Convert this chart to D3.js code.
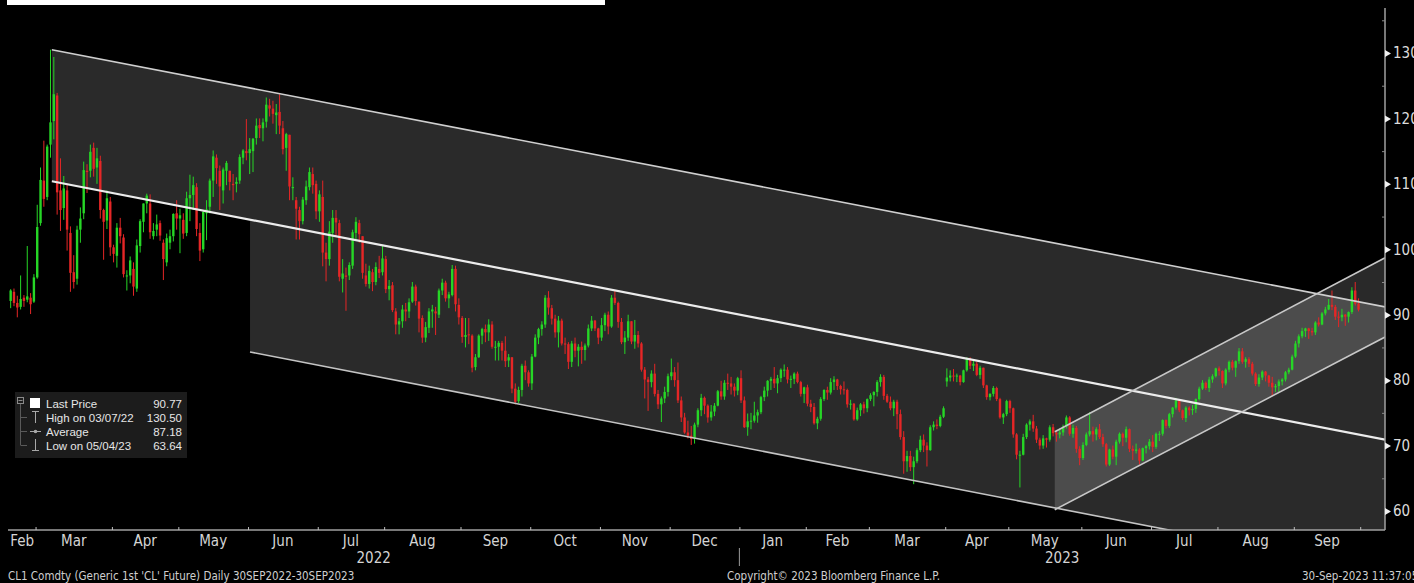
<!DOCTYPE html>
<html>
<head>
<meta charset="utf-8">
<script src="https://cdn.jsdelivr.net/npm/d3@7"></script>
<style>
html, body { margin: 0; padding: 0; background: #000; overflow: hidden; }
svg { display: block; }
</style>
</head>
<body>
<div id="chart"></div>
<script>
// daily candles, [open, high, low, close], one array per month
const feb22 = [[92.1,93.9,91.0,93.7],[93.5,94.0,91.3,91.8],[91.8,92.9,89.6,91.1],[91.2,96.0,90.8,92.4],[92.6,93.0,91.2,92.1],[92.3,100.5,91.9,92.8],[92.6,93.3,90.1,91.6],[92.0,96.2,91.8,95.7]];
const mar22 = [[95.7,106.8,95.5,103.4],[104.0,112.5,103.6,110.6],[110.5,116.6,106.5,107.7],[108.0,116.0,107.5,115.7],[116.0,130.5,114.0,119.4],[119.6,129.4,116.8,123.7],[123.5,123.9,105.3,108.7],[109.0,113.9,102.8,106.0],[106.3,111.2,104.5,109.3],[109.0,110.0,99.8,103.0],[102.5,103.5,93.5,96.4],[96.5,99.1,94.0,95.0],[95.5,103.6,94.6,103.0],[103.0,106.4,101.0,104.7],[105.5,113.4,104.6,112.1],[112.0,113.0,108.6,111.8],[112.0,116.0,111.0,114.9],[115.5,116.3,111.1,112.3],[112.5,115.5,110.0,113.9],[113.5,114.3,104.7,106.0],[106.0,106.2,98.4,104.2],[104.4,109.0,103.1,107.8],[107.3,108.0,99.0,100.3]];
const apr22 = [[100.3,100.7,98.0,99.3],[99.0,104.0,97.2,103.3],[103.3,104.8,100.9,102.0],[101.8,102.3,95.7,96.2],[96.0,96.8,93.7,96.0],[96.0,98.9,94.8,98.3],[97.0,98.0,92.9,94.3],[94.0,101.5,93.5,100.6],[100.5,104.6,99.5,104.3],[104.2,107.0,102.6,107.0],[107.0,108.5,105.5,108.2],[107.0,108.4,101.6,102.6],[102.0,104.0,101.5,102.8],[103.0,105.3,102.0,103.8],[104.0,104.4,101.3,102.1],[101.0,101.5,95.3,98.5],[98.0,102.4,97.4,101.7],[101.0,103.0,100.0,102.0],[102.0,105.5,101.2,105.4],[105.5,107.5,103.0,104.7]];
const may22 = [[104.7,106.2,99.4,105.2],[104.5,105.5,101.6,102.4],[102.5,108.8,102.0,107.8],[107.8,111.4,104.3,108.3],[108.3,111.1,106.0,109.8],[109.5,110.1,102.0,103.1],[102.5,104.0,98.2,99.8],[100.0,106.0,99.5,105.7],[105.5,107.5,101.4,106.1],[106.5,110.8,105.5,110.5],[110.5,115.1,108.0,114.2],[114.0,114.5,110.0,112.4],[112.0,112.8,106.0,109.6],[109.0,112.5,107.0,112.2],[112.0,113.5,109.8,113.2],[112.0,112.0,109.0,110.3],[110.0,111.5,107.5,109.8],[110.0,111.0,108.7,110.3],[110.5,114.5,110.0,114.1],[114.0,115.3,113.0,115.1],[115.0,119.9,113.6,114.7]];
const jun22 = [[114.7,117.0,111.5,115.3],[115.0,117.0,111.8,116.9],[117.0,120.0,116.0,118.9],[119.0,120.0,117.0,118.5],[118.5,120.0,116.5,119.4],[119.5,123.2,118.6,122.1],[122.0,123.0,120.3,121.5],[121.5,122.7,119.2,120.7],[120.5,122.2,117.6,120.9],[121.0,123.7,117.6,118.9],[118.5,119.6,114.5,115.3],[115.5,117.8,112.0,117.6],[117.5,117.5,107.5,109.6],[109.5,111.0,107.5,109.5],[107.5,108.0,101.5,106.2],[106.0,106.5,101.5,104.3],[104.3,108.0,103.8,107.6],[107.5,110.5,106.8,109.6],[109.5,112.5,109.0,111.8],[111.5,112.5,108.5,109.8],[110.0,110.5,104.6,105.8]];
const jul22 = [[105.8,109.0,104.2,108.4],[108.0,110.5,97.4,99.5],[99.5,101.0,95.1,98.5],[98.5,104.3,97.5,102.7],[102.5,106.0,101.0,104.8],[104.8,106.0,102.0,104.1],[104.0,104.5,95.1,95.8],[95.5,98.5,93.4,96.3],[96.0,97.2,90.6,95.8],[96.0,98.0,95.3,97.6],[97.5,103.0,97.0,102.6],[102.5,104.9,101.5,104.2],[104.0,104.5,101.0,102.3],[102.0,102.0,95.5,96.4],[96.0,97.8,94.3,94.7],[94.7,97.5,94.0,96.7],[96.5,97.0,93.6,95.0],[95.0,98.0,94.5,97.3],[97.0,99.0,95.6,96.4],[96.5,100.5,96.0,98.6]];
const aug22 = [[98.5,99.0,93.3,93.9],[93.9,95.3,92.2,94.4],[94.5,95.0,90.4,90.7],[90.5,91.0,87.0,88.5],[88.5,89.5,87.0,89.0],[89.0,91.5,88.0,90.8],[90.8,91.8,89.0,90.5],[90.5,92.5,89.5,91.9],[92.0,95.0,91.8,94.3],[94.3,94.6,91.4,92.1],[92.0,92.0,87.3,89.4],[89.5,89.9,85.7,86.5],[86.5,88.9,85.8,88.1],[88.0,91.0,87.2,90.5],[90.5,91.5,88.0,90.8],[90.5,91.2,86.9,90.2],[90.0,94.0,89.5,93.7],[93.7,95.5,93.0,94.9],[94.9,95.2,92.0,92.5],[92.5,93.5,91.0,93.1],[93.0,97.6,92.8,97.0],[97.0,97.5,90.5,91.6],[91.5,92.5,88.5,89.6]];
const sep22 = [[89.5,89.8,85.7,86.6],[86.6,89.5,85.0,86.9],[87.0,89.5,85.5,86.9],[86.8,87.0,81.2,81.9],[82.0,84.0,81.5,83.5],[83.5,87.0,83.4,86.8],[86.8,88.0,85.5,87.8],[87.8,88.5,85.8,87.3],[87.3,89.3,86.0,88.5],[88.5,89.0,84.8,85.1],[85.1,86.0,83.0,85.1],[85.1,86.0,83.0,85.7],[85.7,86.0,83.0,84.5],[84.5,86.7,82.0,82.9],[83.0,84.0,82.0,83.5],[83.5,83.5,78.0,78.7],[78.7,79.5,76.3,76.7],[76.8,79.0,76.5,78.5],[78.5,82.5,77.5,82.2],[82.2,83.0,80.0,81.2],[81.2,81.5,79.0,79.5]];
const oct22 = [[79.5,84.0,78.5,83.6],[83.6,87.0,83.5,86.5],[86.5,88.0,85.5,87.8],[87.8,89.0,86.8,88.5],[88.5,93.0,88.0,92.6],[92.6,93.6,90.0,91.1],[91.0,91.5,88.5,89.4],[89.4,90.0,86.5,87.3],[87.3,89.8,85.0,89.1],[89.1,89.4,85.3,85.6],[85.6,86.5,84.0,85.5],[85.5,85.8,81.7,82.8],[82.8,86.0,82.0,85.6],[85.6,86.5,83.5,84.5],[84.5,85.5,82.1,85.1],[85.1,85.9,82.5,84.6],[84.6,85.6,83.0,85.3],[85.3,88.5,85.0,87.9],[87.9,89.8,87.5,89.1],[89.1,89.2,87.5,87.9],[87.9,88.0,85.5,86.5]];
const nov22 = [[86.5,89.5,86.0,88.4],[88.4,90.3,87.5,90.0],[90.0,90.5,87.0,88.2],[88.2,93.0,88.0,92.6],[92.6,93.7,91.5,91.8],[91.8,92.0,88.0,88.9],[88.9,89.5,85.5,85.8],[85.8,87.5,84.0,86.5],[86.5,90.0,86.0,89.0],[89.0,89.0,85.5,85.9],[85.9,89.2,84.8,86.9],[86.9,87.5,85.0,85.6],[85.6,85.8,81.3,81.6],[81.6,82.0,77.2,80.1],[80.1,80.5,75.3,79.7],[79.7,81.5,78.9,81.0],[81.0,82.5,77.5,77.9],[77.9,78.5,75.6,76.3],[76.3,77.5,73.6,77.2],[77.2,79.0,76.5,78.2],[78.2,81.0,77.5,80.6]];
const dec22 = [[80.6,83.3,80.0,81.2],[81.2,82.0,79.0,80.0],[80.0,82.7,76.5,76.9],[76.9,77.5,73.6,74.3],[74.3,75.0,71.8,72.0],[72.0,73.8,71.1,71.5],[71.5,73.0,70.1,71.0],[71.0,73.5,70.3,73.2],[73.2,75.7,72.8,75.4],[75.4,77.9,74.5,77.3],[77.3,77.5,74.8,76.1],[76.1,76.3,73.5,74.3],[74.3,76.2,73.8,75.2],[75.2,76.5,74.5,76.1],[76.1,78.5,76.0,78.3],[78.3,79.9,77.0,77.5],[77.5,80.0,77.0,79.6],[79.6,81.0,78.5,79.5],[79.5,80.5,77.8,79.0],[79.0,79.5,77.5,78.4],[78.4,80.5,77.7,80.3]];
const jan23 = [[80.3,81.5,76.5,76.9],[76.9,77.5,72.7,72.8],[72.8,74.9,71.5,73.7],[73.7,75.0,72.5,73.8],[73.8,76.7,73.5,74.6],[74.6,75.5,73.5,75.1],[75.1,77.6,74.8,77.4],[77.4,79.0,76.8,78.4],[78.4,80.0,77.5,79.9],[79.9,80.5,78.5,80.2],[80.2,82.0,78.8,79.5],[79.5,80.8,78.0,80.3],[80.3,81.8,79.7,81.6],[81.6,82.4,80.5,81.6],[81.6,82.0,79.5,80.1],[80.1,80.7,78.8,80.2],[80.2,81.2,79.4,81.0],[81.0,81.3,79.5,79.7],[79.7,79.9,77.5,77.9],[77.9,79.0,76.5,78.9]];
const feb23 = [[78.9,79.3,76.0,76.4],[76.4,77.0,75.1,75.9],[75.9,76.5,73.2,73.4],[73.4,74.4,72.5,74.1],[74.1,77.4,73.8,77.1],[77.1,78.6,76.8,78.5],[78.5,79.0,77.0,78.1],[78.1,80.3,77.8,79.7],[79.7,80.6,78.5,80.1],[80.1,80.2,78.5,79.1],[79.1,79.3,77.8,78.6],[78.6,79.8,77.8,78.5],[78.5,78.7,75.8,76.3],[76.3,77.0,75.5,76.4],[76.4,76.5,73.8,74.0],[74.0,75.8,73.8,75.4],[75.4,76.5,74.5,76.3],[76.3,76.7,74.9,75.7],[75.7,77.2,75.1,77.1]];
const mar23 = [[77.1,78.0,76.8,77.7],[77.7,78.3,76.0,78.2],[78.2,80.0,77.5,79.7],[79.7,80.9,79.0,80.5],[80.5,80.8,77.0,77.6],[77.6,77.9,76.5,76.7],[76.7,77.5,75.4,75.7],[75.7,77.0,74.5,76.7],[76.7,77.0,72.5,74.8],[74.8,75.5,70.9,71.3],[71.3,72.2,65.7,67.6],[67.6,69.2,66.0,68.4],[68.4,69.2,66.1,66.7],[66.7,68.3,64.1,67.6],[67.6,69.6,67.3,69.3],[69.3,71.5,69.0,70.9],[70.9,71.7,69.0,70.0],[70.0,70.5,66.8,69.3],[69.3,73.1,69.2,72.8],[72.8,73.7,72.3,73.2],[73.2,74.0,72.5,73.0],[73.0,74.7,72.8,74.4],[74.4,76.0,74.2,75.7]];
const apr23 = [[79.8,81.8,79.0,80.4],[80.4,81.5,79.8,80.7],[80.7,81.7,79.8,80.6],[80.6,81.0,79.7,80.7],[80.7,80.8,79.2,79.7],[79.7,81.6,79.6,81.5],[81.5,83.5,81.3,83.3],[83.3,83.5,81.7,82.2],[82.2,83.0,81.4,82.5],[82.5,82.8,80.6,80.8],[80.8,82.2,80.2,81.9],[81.9,81.9,78.8,79.2],[79.2,79.3,77.0,77.4],[77.4,78.0,76.9,77.9],[77.9,79.1,77.5,78.8],[78.8,79.0,76.8,77.1],[77.1,77.3,74.1,74.3],[74.3,75.0,73.3,74.8],[74.8,77.0,74.5,76.8]];
const may23 = [[76.8,77.0,75.0,75.7],[75.7,75.8,71.2,71.7],[71.7,71.9,67.9,68.6],[68.6,69.2,63.6,68.6],[68.6,71.8,68.5,71.3],[71.3,73.4,71.0,73.2],[73.2,74.0,72.3,73.7],[73.7,74.7,72.1,72.6],[72.6,73.0,70.4,70.9],[70.9,71.2,69.4,70.0],[70.0,71.6,69.5,71.1],[71.1,71.2,69.7,70.9],[70.9,73.1,70.6,72.8],[72.8,73.3,71.4,71.9],[71.9,72.4,70.6,71.7],[71.7,72.6,71.1,72.0],[72.0,73.2,71.5,72.9],[72.9,74.6,72.6,74.3],[74.3,74.5,71.5,71.8],[71.8,73.2,71.2,72.7],[72.7,73.0,68.9,69.5],[69.5,69.9,67.0,68.1]];
const jun23 = [[68.1,70.5,67.8,70.1],[70.1,72.0,69.9,71.7],[71.7,75.1,71.4,72.2],[72.2,72.9,70.6,71.7],[71.7,72.8,70.8,72.5],[72.5,73.3,71.0,71.3],[71.3,71.8,69.8,70.2],[70.2,70.4,66.8,67.1],[67.1,69.5,66.9,69.4],[69.4,70.0,67.9,68.3],[68.3,70.9,67.0,70.6],[70.6,72.0,70.3,71.8],[71.8,72.0,69.9,71.2],[71.2,72.9,70.5,72.5],[72.5,72.6,69.0,69.5],[69.5,70.0,67.8,69.2],[69.2,70.3,68.8,69.4],[69.4,69.6,67.1,67.7],[67.7,69.7,67.6,69.6],[69.6,70.1,68.8,69.9],[69.9,71.0,69.4,70.6]];
const jul23 = [[70.6,71.6,69.0,69.8],[69.8,72.0,69.5,71.8],[71.8,72.2,70.7,71.8],[71.8,74.0,71.5,73.9],[73.9,74.0,72.6,73.0],[73.0,75.0,72.7,74.8],[74.8,75.9,74.3,75.8],[75.8,77.3,75.5,76.9],[76.9,77.0,75.1,75.4],[75.4,75.5,73.9,74.2],[74.2,76.0,73.6,75.8],[75.8,76.0,74.6,75.4],[75.4,76.2,74.7,75.6],[75.6,77.2,75.0,77.1],[77.1,79.0,76.9,78.7],[78.7,80.0,78.5,79.6],[79.6,79.8,78.5,78.8],[78.8,80.5,78.2,80.1],[80.1,80.9,79.6,80.6],[80.6,81.9,80.4,81.8]];
const aug23 = [[81.8,82.1,80.7,81.4],[81.4,81.5,78.8,79.5],[79.5,81.8,79.2,81.6],[81.6,83.0,81.2,82.8],[82.8,83.1,81.5,81.9],[81.9,83.0,80.5,82.9],[82.9,84.9,82.5,84.4],[84.4,84.9,82.5,82.8],[82.8,83.5,81.9,83.2],[83.2,83.5,82.0,82.5],[82.5,82.8,80.7,81.0],[81.0,81.2,79.1,79.4],[79.4,80.9,79.0,80.4],[80.4,81.5,80.0,81.3],[81.3,81.4,79.8,80.7],[80.7,80.8,79.0,79.6],[79.6,80.5,77.6,78.9],[78.9,79.4,78.2,79.1],[79.1,80.1,78.1,79.8],[79.8,80.3,79.2,80.1],[80.1,81.4,79.8,81.2],[81.2,81.9,80.9,81.6],[81.6,83.9,81.5,83.6]];
const sep23 = [[83.6,86.0,83.4,85.6],[85.6,87.0,85.0,86.7],[86.7,88.0,86.4,87.5],[87.5,88.0,86.6,87.9],[87.9,88.0,86.3,87.5],[87.5,88.0,86.8,87.3],[87.3,89.0,86.9,88.8],[88.8,89.6,88.2,88.5],[88.5,90.4,88.4,90.2],[90.2,91.2,89.9,90.8],[90.8,92.4,90.7,91.5],[91.5,93.7,90.7,91.2],[91.2,91.5,89.2,89.7],[89.7,90.5,88.1,89.6],[89.6,90.9,89.0,90.0],[90.0,90.1,88.3,89.7],[89.7,90.5,88.8,90.4],[90.4,94.2,90.1,93.7],[93.7,95.0,91.4,91.7],[91.7,92.5,90.5,90.77]];

const monthBars = [feb22, mar22, apr22, may22, jun22, jul22, aug22, sep22, oct22, nov22, dec22,
                   jan23, feb23, mar23, apr23, may23, jun23, jul23, aug23, sep23];
const monthNames = ["Feb","Mar","Apr","May","Jun","Jul","Aug","Sep","Oct","Nov","Dec",
                    "Jan","Feb","Mar","Apr","May","Jun","Jul","Aug","Sep"];
const monthYears = [2022,2022,2022,2022,2022,2022,2022,2022,2022,2022,2022,
                    2023,2023,2023,2023,2023,2023,2023,2023,2023];

const yTicks = [60, 70, 80, 90, 100, 110, 120, 130];
const yMinorTicks = [65, 75, 85, 95, 105, 115, 125, 135];

const legendLabels = ["Last Price", "High on 03/07/22", "Average", "Low on 05/04/23"];
const legendValues = ["90.77", "130.50", "87.18", "63.64"];

// drawn trend channels, [bar index, price] at both ends
const topLine = [[12.9, 130.5], [414.5, 91.2]];
const midLine = [[12.9, 110.4], [414.5, 70.9]];
const lowLine = [[72.6, 84.3], [414.5, 50.7]];
const riseLow = [[315, 60.2], [414.5, 86.6]];
const riseHigh = [[315, 72.1], [414.5, 98.7]];

const footLeft = "CL1 Comdty (Generic 1st 'CL' Future)  Daily 30SEP2022-30SEP2023";
const footMid = "Copyright\u00A9 2023 Bloomberg Finance L.P.";
const footRight = "30-Sep-2023 11:37:05";

// ---------------------------------------------------------------
const W = 1414, H = 583;
const plot = {left: 8, right: 1385, top: 8, bottom: 530};
const axisFont = "'DejaVu Sans Condensed','Liberation Sans Narrow','DejaVu Sans',sans-serif";

let bars = [], monthStart = [];
monthBars.forEach(m => {
    monthStart.push(bars.length);
    m.forEach(b => bars.push(b));
});
const n = bars.length;

const x = d3.scaleLinear().domain([0, n]).range([9, 1360.2]);
const y = d3.scaleLinear().domain([60, 130]).range([511, 53]);

const svg = d3.select("#chart").append("svg")
    .attr("width", W).attr("height", H)
    .style("background", "#000");

// cut off header strip
svg.append("rect").attr("x", 7).attr("y", 0).attr("width", 598).attr("height", 5).attr("fill", "#fff");

svg.append("clipPath").attr("id", "plotclip")
    .append("rect")
    .attr("x", plot.left).attr("y", plot.top)
    .attr("width", plot.right - plot.left).attr("height", plot.bottom - plot.top);

const g = svg.append("g").attr("clip-path", "url(#plotclip)");

function at(line, i) {
    let t = (i - line[0][0]) / (line[1][0] - line[0][0]);
    return [i, line[0][1] + t * (line[1][1] - line[0][1])];
}
const toPx = p => [x(p[0]), y(p[1])];
const poly = pts => "M" + pts.map(p => toPx(p).join(",")).join("L") + "Z";

// channel fills
g.append("path").attr("d", poly([topLine[0], topLine[1], midLine[1], midLine[0]])).attr("fill", "#2a2a2a");
g.append("path").attr("d", poly([at(midLine, lowLine[0][0]), midLine[1], lowLine[1], lowLine[0]])).attr("fill", "#2a2a2a");
g.append("path").attr("d", poly([riseLow[0], riseLow[1], riseHigh[1], riseHigh[0]]))
    .attr("fill", "#ffffff").attr("fill-opacity", 0.16);

// candles
const up = "#26d626", down = "#e52626";
const bw = 2.4;
const candle = g.append("g").selectAll("g")
    .data(bars)
    .enter()
    .append("g");

candle.append("line")
    .attr("x1", (d, i) => x(i + 0.5)).attr("x2", (d, i) => x(i + 0.5))
    .attr("y1", d => y(d[1])).attr("y2", d => y(d[2]))
    .attr("stroke", d => d[3] >= d[0] ? up : down)
    .attr("stroke-width", 1);

candle.append("rect")
    .attr("x", (d, i) => x(i + 0.5) - bw / 2)
    .attr("width", bw)
    .attr("y", d => y(Math.max(d[0], d[3])))
    .attr("height", d => Math.max(1, Math.abs(y(d[0]) - y(d[3]))))
    .attr("fill", d => d[3] >= d[0] ? up : down);

// channel lines
const lineGen = d3.line().x(d => x(d[0])).y(d => y(d[1]));
g.append("path").attr("d", lineGen(topLine)).attr("stroke", "#cfcfcf").attr("stroke-width", 1.6).attr("fill", "none");
g.append("path").attr("d", lineGen(midLine)).attr("stroke", "#ececec").attr("stroke-width", 2.2).attr("fill", "none");
g.append("path").attr("d", lineGen(lowLine)).attr("stroke", "#c4c4c4").attr("stroke-width", 1.6).attr("fill", "none");
g.append("path").attr("d", lineGen(riseLow)).attr("stroke", "#c8c8c8").attr("stroke-width", 1.6).attr("fill", "none");
g.append("path").attr("d", lineGen(riseHigh)).attr("stroke", "#c8c8c8").attr("stroke-width", 1.6).attr("fill", "none");

// frame lines
svg.append("line").attr("x1", plot.right).attr("x2", plot.right).attr("y1", plot.top).attr("y2", plot.bottom)
    .attr("stroke", "#a0a0a0").attr("stroke-width", 1.5);
svg.append("line").attr("x1", plot.left).attr("x2", plot.right).attr("y1", plot.bottom).attr("y2", plot.bottom)
    .attr("stroke", "#a0a0a0").attr("stroke-width", 1.5);

// right price axis
const yAxis = svg.append("g")
    .attr("transform", `translate(${plot.right},0)`)
    .call(d3.axisRight(y).tickValues(yTicks).tickSize(0).tickPadding(8));
yAxis.select(".domain").remove();
yAxis.selectAll("text")
    .attr("fill", "#dcdcdc")
    .style("font-family", axisFont)
    .style("font-size", "15px");
yAxis.selectAll(".tick").append("path")
    .attr("d", "M0,-3.5L6,0L0,3.5Z")
    .attr("fill", "#f0f0f0");

const yMinor = svg.append("g")
    .attr("transform", `translate(${plot.right},0)`)
    .call(d3.axisLeft(y).tickValues(yMinorTicks).tickSize(3).tickFormat(""));
yMinor.select(".domain").remove();
yMinor.selectAll("line").attr("stroke", "#8a8a8a");

// bottom month axis
const xAxis = svg.append("g")
    .attr("transform", `translate(0,${plot.bottom})`)
    .call(d3.axisBottom(x).tickValues(monthStart.slice(1).concat([n])).tickSize(-3).tickFormat(""));
xAxis.select(".domain").remove();
xAxis.selectAll("line").attr("stroke", "#bdbdbd");

monthNames.forEach((name, i) => {
    let s = monthStart[i];
    let e = i + 1 < monthStart.length ? monthStart[i + 1] : n;
    svg.append("text")
        .attr("x", (Math.max(x(s), plot.left) + x(e)) / 2)
        .attr("y", 546)
        .attr("text-anchor", "middle")
        .attr("fill", "#d4d4d4")
        .style("font-family", axisFont)
        .style("font-size", "15px")
        .text(name);
});

// year labels
const years = Array.from(new Set(monthYears));
years.forEach((yr, k) => {
    let first = monthStart[monthYears.indexOf(yr)];
    let last = monthYears.lastIndexOf(yr);
    let x0 = k === 0 ? plot.left : x(first);
    let x1 = last === monthYears.length - 1 ? plot.right : x(monthStart[last + 1]);
    svg.append("text")
        .attr("x", (x0 + x1) / 2)
        .attr("y", 563)
        .attr("text-anchor", "middle")
        .attr("fill", "#d4d4d4")
        .style("font-family", axisFont)
        .style("font-size", "15px")
        .text(yr);
    if (k > 0) {
        svg.append("line")
            .attr("x1", x(first)).attr("x2", x(first))
            .attr("y1", 548).attr("y2", 566)
            .attr("stroke", "#9a9a9a").attr("stroke-width", 1);
    }
});

// footer
const foot = [[footLeft, 8, "start"], [footMid, 727, "start"], [footRight, 1302, "start"]];
foot.forEach(f => {
    svg.append("text")
        .attr("x", f[1]).attr("y", 580)
        .attr("text-anchor", f[2])
        .attr("fill", "#cfcfcf")
        .style("font-family", axisFont)
        .style("font-size", "11.5px")
        .text(f[0]);
});

// legend
const lg = svg.append("g");
const legFont = "'Liberation Sans',Arial,sans-serif";
lg.append("rect").attr("x", 15).attr("y", 392).attr("width", 172).attr("height", 66).attr("fill", "#1c1c1c");
lg.append("rect").attr("x", 17.5).attr("y", 397.5).attr("width", 6).attr("height", 6)
    .attr("fill", "none").attr("stroke", "#8a8a8a");
lg.append("line").attr("x1", 18.5).attr("x2", 22.5).attr("y1", 400.5).attr("y2", 400.5).attr("stroke", "#8a8a8a");
lg.append("line").attr("x1", 20.5).attr("x2", 20.5).attr("y1", 404).attr("y2", 445).attr("stroke", "#5a5a5a");

const rowY = [403, 417, 431, 445];
rowY.slice(1).forEach(ry => {
    lg.append("line").attr("x1", 20.5).attr("x2", 27).attr("y1", ry + 0.5).attr("y2", ry + 0.5).attr("stroke", "#5a5a5a");
});
// symbols
lg.append("rect").attr("x", 30).attr("y", 398).attr("width", 10).attr("height", 10).attr("fill", "#fff");
lg.append("path").attr("d", "M32,411.5H39M35.5,411.5V423").attr("stroke", "#a8a8a8").attr("fill", "none");
lg.append("path").attr("d", "M30,431.5H41").attr("stroke", "#a8a8a8").attr("fill", "none");
lg.append("circle").attr("cx", 35.5).attr("cy", 431.5).attr("r", 1.8).attr("fill", "#a8a8a8");
lg.append("path").attr("d", "M35.5,439V450.5M32,450.5H39").attr("stroke", "#a8a8a8").attr("fill", "none");

legendLabels.forEach((t, i) => {
    lg.append("text")
        .attr("x", 46).attr("y", rowY[i] + 4.5)
        .attr("fill", "#e6e6e6")
        .style("font-family", legFont)
        .style("font-size", "11.5px")
        .text(t);
    lg.append("text")
        .attr("x", 182).attr("y", rowY[i] + 4.5)
        .attr("text-anchor", "end")
        .attr("fill", "#e6e6e6")
        .style("font-family", legFont)
        .style("font-size", "11.5px")
        .text(legendValues[i]);
});
</script>
</body>
</html>
